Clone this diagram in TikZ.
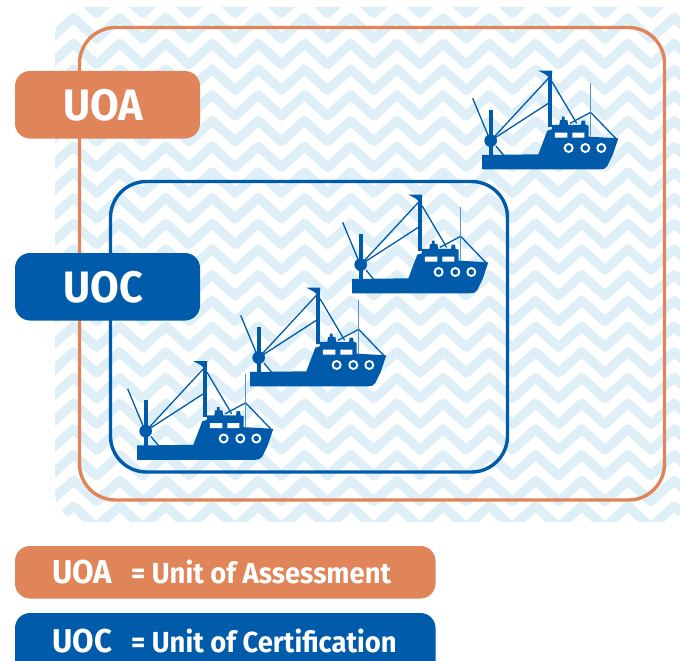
\documentclass[tikz,border=0pt]{standalone}
\usepackage{fontspec}
\setmainfont{Fira Sans}
\newfontfamily\narrowf[FakeStretch=0.945]{Fira Sans}
\definecolor{wave}{HTML}{DFEFF8}
\definecolor{uoa}{HTML}{E0855A}
\definecolor{uoc}{HTML}{005BAA}
\tikzset{
  tag/.style={fill=#1,draw=none,rounded corners=15pt},
  frame/.style={draw=#1,line width=3.4pt,rounded corners=36pt},
  bigtxt/.style={text=white,anchor=base west,inner sep=0pt,font=\narrowf\fontsize{44}{44}\selectfont\bfseries},
  legcap/.style={text=white,anchor=base west,inner sep=0pt,font=\narrowf\fontsize{33}{33}\selectfont\bfseries},
  legtxt/.style={text=white,anchor=base west,inner sep=0pt,font=\narrowf\fontsize{29}{29}\selectfont\bfseries},
  pics/trawler/.style={code={
    \begin{scope}[x=0.3333pt,y=-0.3333pt]
      \fill[uoc] (36,285) -- (205,283) -- (232,212) -- (246,208) -- (246,195) -- (268,195) -- (270,180) -- (276,180) -- (276,170) -- (284,170) -- (284,180) -- (292,180) -- (295,195) -- (333,195) -- (335,182) -- (345,182) -- (347,195) -- (356,197) -- (356,230) -- (445,235) -- (428,285) -- (412,318) .. controls (408,326) and (400,328) .. (390,328) -- (36,328) -- cycle;
      \fill[white] (255,218) rectangle (292,233) (307,218) rectangle (343,233);
      \foreach \px in {296,346,394}{\draw[white,line width=1.9pt,fill=uoc] (\px,264) circle (12);}
      \fill[uoc] (235,45) rectangle (246,200);
      \fill[uoc] (205,32) -- (247,32) -- (245,52) -- (237,52) -- (226,43) -- cycle;
      \fill[uoc] (58,150) rectangle (70,287);
      \fill[uoc] (62,242) circle (19);
      \draw[uoc,line width=1.3pt] (8,115) -- (55,228) (62,242) -- (238,52) (62,242) -- (238,128) (78,258) -- (100,285) (246,65) -- (320,190) (300,190) -- (362,157) -- (437,235);
      \draw[uoc!65!white,line width=1.1pt] (362,70) -- (362,232);
    \end{scope}
  }}
}
\begin{document}
\begin{tikzpicture}[x=1pt,y=-1pt]
\useasboundingbox (0,0) rectangle (680,661);
\begin{scope}
  \clip[rounded corners=30pt] (55,7) rectangle (690,522);
  \foreach \k in {-1,...,22}{
    \pgfmathsetmacro{\yy}{-7.9+25.7*\k}
    \draw[wave,line width=9.4pt,line join=round]
      (4.2,\yy+21)
      \foreach \j in {-1,...,15}{
        -- (73.5+46.2*\j,\yy) -- (96.6+46.2*\j,\yy+21)
      };
  }
\end{scope}
\draw[frame=uoa] (79.5,27.5) rectangle (664.5,500);
\draw[frame=uoc] (110.5,181.5) rectangle (507.5,472);
\pic at (470,60) {trawler};
\pic at (340,184) {trawler};
\pic at (238,277) {trawler};
\pic at (125,350.5) {trawler};
\path[tag=uoa] (15,71) rectangle (200,138.5);
\path[tag=uoc] (15,253) rectangle (200,320.5);
\node[bigtxt] (a) at (63,120) {UOA};
\node[bigtxt] (c) at (63,302) {UOC};
\path[tag=uoa] (15,546) rectangle (435.5,598.5);
\path[tag=uoc] (15,613) rectangle (435.5,680);
\node[legcap] (la) at (52,583) {UOA};
\node[legtxt] (lb) at (131,583) {= Unit of Assessment};
\node[legcap] (lc) at (52,652) {UOC};
\node[legtxt] (ld) at (131,652) {= Unit of Certification};
\end{tikzpicture}
\end{document}
